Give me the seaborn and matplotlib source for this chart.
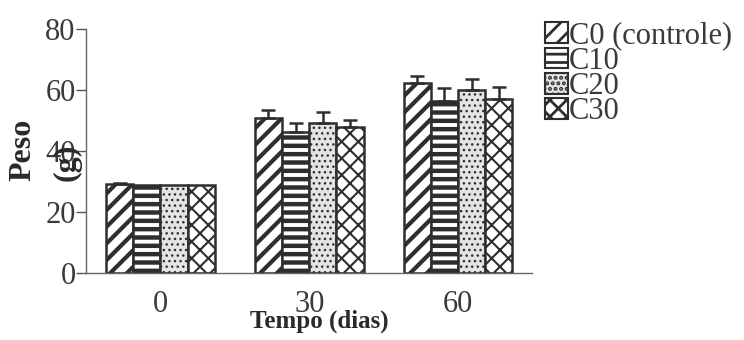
import pandas as pd
import matplotlib
matplotlib.use('Agg')
import matplotlib.pyplot as plt
from matplotlib.patches import Patch
from matplotlib.container import BarContainer
import seaborn as sns

# ----------------------------
# Data
# ----------------------------
tempos = ['0', '30', '60']
grupos = ['C0 (controle)', 'C10', 'C20', 'C30']
c0 = [29.2, 50.7, 62.4]
c10 = [29.0, 46.3, 56.4]
c20 = [29.0, 49.1, 60.0]
c30 = [29.0, 48.0, 56.9]
err_c0 = [0.4, 2.7, 2.2]
err_c10 = [0.0, 3.0, 4.2]
err_c20 = [0.0, 3.6, 3.5]
err_c30 = [0.0, 2.2, 3.9]

valores = [c0, c10, c20, c30]
erros = [err_c0, err_c10, err_c20, err_c30]

df = pd.DataFrame({
    'Tempo': tempos * len(grupos),
    'Grupo': [g for g in grupos for _ in tempos],
    'Peso': [v for serie in valores for v in serie],
})

# ----------------------------
# Style
# ----------------------------
sns.set_style('white')
plt.rcParams['font.family'] = ['Liberation Serif', 'DejaVu Serif']
plt.rcParams['hatch.linewidth'] = 2.0

edge = '#2e2e2e'
hatches = ['//', '--', '...', 'xx']
hatch_lw = [3.0, 3.2, 1.0, 1.5]
faces = ['white', 'white', '#e4e4e4', 'white']

fig = plt.figure(figsize=(7.44, 3.4), dpi=100)
ax = fig.add_axes([0.1156, 0.197, 0.6, 0.718])

sns.barplot(data=df, x='Tempo', y='Peso', hue='Grupo', order=tempos,
            hue_order=grupos, palette=['white'] * 4, saturation=1,
            width=0.73, edgecolor=edge, linewidth=1.8, errorbar=None,
            legend=False, ax=ax)

bar_conts = [c for c in ax.containers if isinstance(c, BarContainer)]
for i, cont in enumerate(bar_conts):
    for bar in cont.patches:
        bar.set_hatch(hatches[i])
        bar.set_facecolor(faces[i])
        if hasattr(bar, 'set_hatch_linewidth'):
            bar.set_hatch_linewidth(hatch_lw[i])
    xs = [b.get_x() + b.get_width() / 2 for b in cont.patches]
    ys = [b.get_height() for b in cont.patches]
    for x, y, e in zip(xs, ys, erros[i]):
        if e > 0:
            ax.errorbar(x, y, yerr=[[0], [e]], fmt='none', ecolor=edge,
                        elinewidth=1.8, capsize=5, capthick=1.8, zorder=1)

# ----------------------------
# Axes
# ----------------------------
ax.set_ylim(0, 80)
ax.set_xlim(-0.5, 2.5)
ax.set_yticks([0, 20, 40, 60, 80])
ax.set_xticks([0, 1, 2])
ax.set_xticklabels(tempos)
ax.set_xticks([0.5, 1.5, 2.5], minor=True)
ax.tick_params(axis='x', which='major', length=0, pad=12, labelsize=22,
               colors='#3a3a3a')
ax.tick_params(axis='x', which='minor', length=10, width=1, color='#555')
ax.tick_params(axis='y', length=7, width=1, color='#555', pad=0.5,
               labelsize=22, labelcolor='#3a3a3a', left=True)
for s in ['top', 'right']:
    ax.spines[s].set_visible(False)
for s in ['left', 'bottom']:
    ax.spines[s].set_color('#666')
    ax.spines[s].set_linewidth(1)

ax.set_xlabel('')
ax.set_ylabel('')
fig.text(0.429, 0.055, 'Tempo (dias)', ha='center', va='center',
         fontsize=18, fontweight='bold', color='#2a2a2a')
fig.text(0.031, 0.56, 'Peso', rotation=90, ha='center', va='center',
         fontsize=23, fontweight='bold', color='#2a2a2a')
fig.text(0.090, 0.522, '(g)', rotation=90, ha='center', va='center',
         fontsize=23, fontweight='bold', color='#2a2a2a')

# ----------------------------
# Legend
# ----------------------------
handles = []
for i, g in enumerate(grupos):
    p = Patch(facecolor=faces[i], edgecolor=edge, hatch=hatches[i],
              linewidth=1.5, label=g)
    if hasattr(p, 'set_hatch_linewidth'):
        p.set_hatch_linewidth(hatch_lw[i] * 0.6)
    handles.append(p)
fig.legend(handles=handles, loc='upper left', bbox_to_anchor=(0.728, 0.946),
           frameon=False, fontsize=22, handlelength=0.75, handleheight=0.65,
           handletextpad=0.05, labelspacing=-0.12, borderpad=0.1,
           borderaxespad=0, labelcolor='#3a3a3a')

plt.savefig('out.png', dpi=100)
